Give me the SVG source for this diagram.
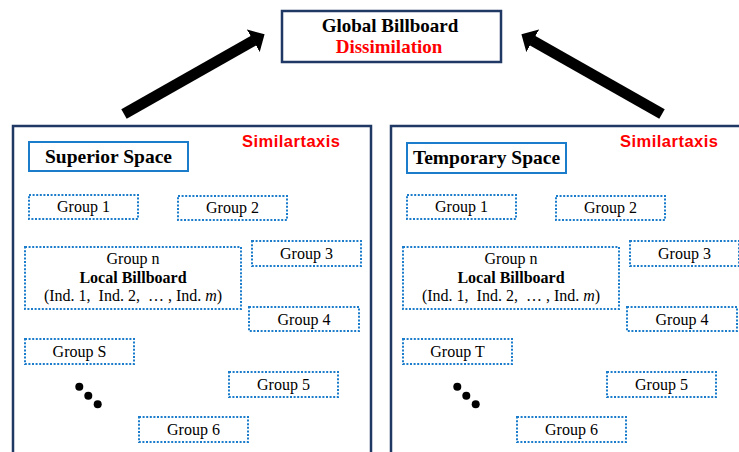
<svg xmlns="http://www.w3.org/2000/svg" width="739" height="452" viewBox="0 0 739 452">
  <defs>
    <style>
      .frame { fill: #ffffff; stroke: #1F3864; stroke-width: 2.5; }
      .label-box { fill: #ffffff; stroke: #1B7CCB; stroke-width: 2; }
      .grp { fill: #ffffff; stroke: #1B7CCB; stroke-width: 2; stroke-dasharray: 2 1.6; }
      .serif { font-family: "Liberation Serif", "Times New Roman", serif; fill: #000000; }
      .title { font-size: 19px; font-weight: bold; text-anchor: middle; }
      .space-name { font-size: 19.5px; font-weight: bold; text-anchor: middle; }
      .gtxt { font-size: 16px; text-anchor: middle; }
      .bold { font-weight: bold; }
      .red { fill: #FF0000; }
      .sim { font-family: "Liberation Sans", Arial, sans-serif; font-size: 16.5px; font-weight: bold; fill: #FF0000; }
      .arrow { stroke: #000000; stroke-width: 11; fill: none; marker-end: url(#head); }
    </style>
    <marker id="head" viewBox="0 0 13 26" refX="0.5" refY="13" markerWidth="13" markerHeight="26" markerUnits="userSpaceOnUse" orient="auto">
      <path d="M0,0 L13,13 L0,26 Z" fill="#000000"/>
    </marker>
  </defs>

  <rect width="739" height="452" fill="#ffffff"/>

  <!-- top node -->
  <g id="global-billboard">
    <rect class="frame" x="282" y="11" width="219" height="51"/>
    <text class="serif title" x="390" y="32">Global Billboard</text>
    <text class="serif title red" x="389" y="53">Dissimilation</text>
  </g>

  <!-- left space -->
  <g id="superior-space-panel">
    <rect class="frame" x="13" y="126" width="358" height="340"/>
    <text class="sim" x="242" y="147" textLength="98">Similartaxis</text>
  </g>
  <g id="superior-space-label">
    <rect class="label-box" x="29" y="142" width="159" height="29"/>
    <text class="serif space-name" x="108.5" y="163">Superior Space</text>
  </g>
  <g id="s-group-1">
    <rect class="grp" x="29" y="195" width="109" height="24"/>
    <text class="serif gtxt" x="83.5" y="212">Group 1</text>
  </g>
  <g id="s-group-2">
    <rect class="grp" x="178" y="196" width="109" height="24"/>
    <text class="serif gtxt" x="232.5" y="213">Group 2</text>
  </g>
  <g id="s-group-n">
    <rect class="grp" x="25" y="247" width="216" height="62"/>
    <text class="serif gtxt" x="133" y="263.5">Group n</text>
    <text class="serif gtxt bold" x="133" y="283">Local Billboard</text>
    <text class="serif gtxt" x="133" y="300.5" xml:space="preserve">(Ind. 1,  Ind. 2,  … , Ind. <tspan font-style="italic">m</tspan>)</text>
  </g>
  <g id="s-group-3">
    <rect class="grp" x="252" y="241" width="109" height="25"/>
    <text class="serif gtxt" x="306.5" y="258.5">Group 3</text>
  </g>
  <g id="s-group-4">
    <rect class="grp" x="249" y="307" width="110" height="24"/>
    <text class="serif gtxt" x="304" y="324.5">Group 4</text>
  </g>
  <g id="s-group-S">
    <rect class="grp" x="25" y="339" width="109" height="25"/>
    <text class="serif gtxt" x="79.5" y="357">Group S</text>
  </g>
  <g id="s-group-5">
    <rect class="grp" x="229" y="372" width="109" height="25"/>
    <text class="serif gtxt" x="283.5" y="389.5">Group 5</text>
  </g>
  <g id="s-group-6">
    <rect class="grp" x="139" y="417" width="109" height="25"/>
    <text class="serif gtxt" x="193.5" y="434.5">Group 6</text>
  </g>
  <g id="s-ellipsis">
    <circle cx="79.3" cy="386.7" r="4"/>
    <circle cx="88.3" cy="395.7" r="4"/>
    <circle cx="97.7" cy="404.3" r="4"/>
  </g>

  <!-- right space: same layout shifted 378px -->
  <g transform="translate(378,0)">
    <g id="temporary-space-panel">
      <rect class="frame" x="13" y="126" width="358" height="340"/>
      <text class="sim" x="242" y="147" textLength="98">Similartaxis</text>
    </g>
    <g id="temporary-space-label">
      <rect class="label-box" x="29" y="143" width="159" height="30"/>
      <text class="serif space-name" x="108.5" y="164">Temporary Space</text>
    </g>
    <g id="t-group-1">
      <rect class="grp" x="29" y="195" width="109" height="24"/>
      <text class="serif gtxt" x="83.5" y="212">Group 1</text>
    </g>
    <g id="t-group-2">
      <rect class="grp" x="178" y="196" width="109" height="24"/>
      <text class="serif gtxt" x="232.5" y="213">Group 2</text>
    </g>
    <g id="t-group-n">
      <rect class="grp" x="25" y="247" width="216" height="62"/>
      <text class="serif gtxt" x="133" y="263.5">Group n</text>
      <text class="serif gtxt bold" x="133" y="283">Local Billboard</text>
      <text class="serif gtxt" x="133" y="300.5" xml:space="preserve">(Ind. 1,  Ind. 2,  … , Ind. <tspan font-style="italic">m</tspan>)</text>
    </g>
    <g id="t-group-3">
      <rect class="grp" x="252" y="241" width="109" height="25"/>
      <text class="serif gtxt" x="306.5" y="258.5">Group 3</text>
    </g>
    <g id="t-group-4">
      <rect class="grp" x="249" y="307" width="110" height="24"/>
      <text class="serif gtxt" x="304" y="324.5">Group 4</text>
    </g>
    <g id="t-group-T">
      <rect class="grp" x="25" y="339" width="109" height="25"/>
      <text class="serif gtxt" x="79.5" y="357">Group T</text>
    </g>
    <g id="t-group-5">
      <rect class="grp" x="229" y="372" width="109" height="25"/>
      <text class="serif gtxt" x="283.5" y="389.5">Group 5</text>
    </g>
    <g id="t-group-6">
      <rect class="grp" x="139" y="417" width="109" height="25"/>
      <text class="serif gtxt" x="193.5" y="434.5">Group 6</text>
    </g>
    <g id="t-ellipsis">
      <circle cx="79.3" cy="386.7" r="4"/>
      <circle cx="88.3" cy="395.7" r="4"/>
      <circle cx="97.7" cy="404.3" r="4"/>
    </g>
  </g>

  <!-- connectors: both spaces feed the global billboard -->
  <g id="connectors">
    <path class="arrow" d="M124,114 L253.7,40.5"/>
    <path class="arrow" d="M662,114 L532.3,40.5"/>
  </g>
</svg>
